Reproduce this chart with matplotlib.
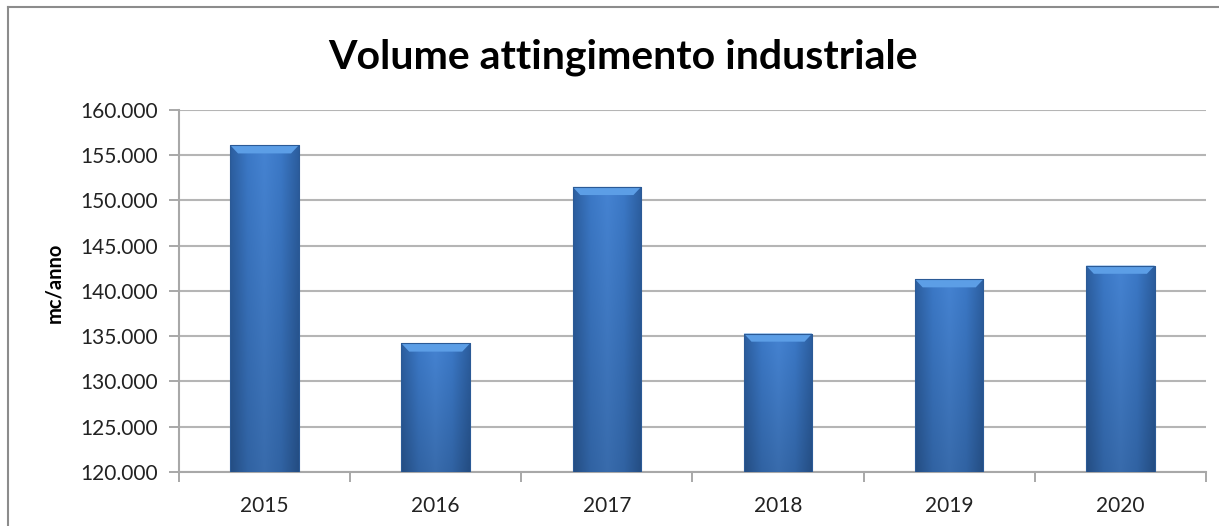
import numpy as np
import matplotlib
matplotlib.use("Agg")
import matplotlib.pyplot as plt
from matplotlib.patches import Polygon, Rectangle
from matplotlib.lines import Line2D
from matplotlib.colors import LinearSegmentedColormap
from matplotlib.ticker import FuncFormatter, MultipleLocator, FixedLocator

years = ["2015", "2016", "2017", "2018", "2019", "2020"]
volumes = [156100, 134200, 151500, 135300, 141300, 142800]

plt.rcParams['font.family'] = ['Lato', 'DejaVu Sans']

fig = plt.figure(figsize=(12.19, 5.26), dpi=100)
ax = fig.add_axes([0.1468, 0.1027, 0.8425, 0.6882])

x = np.arange(len(years))
width = 0.4
ymin = 120000
bars = ax.bar(x, np.array(volumes) - ymin, bottom=ymin, width=width,
              color="#3a74c0", edgecolor="#2b5a96", linewidth=0.6, zorder=3)

# shaded fill inside each bar
cmap = LinearSegmentedColormap.from_list("b", ["#2c5e9f", "#3b78c6", "#4583d2", "#3b78c6", "#2c5e9f"])
gx = np.linspace(0, 1, 64)
gy = np.linspace(0, 1, 64)
grad = cmap(np.tile(gx, (64, 1)))
shade = 0.82 + 0.18 * gy[:, None]
grad[..., :3] = grad[..., :3] * shade[..., None]
for b in bars:
    x0, y0 = b.get_x(), b.get_y()
    w, h = b.get_width(), b.get_height()
    im = ax.imshow(grad, extent=[x0, x0 + w, y0, y0 + h], origin="lower",
                   aspect="auto", zorder=3.5, interpolation="bicubic")
    im.set_clip_path(b)
    # top bevel
    bh = 900
    inset = 0.045
    top = y0 + h
    ax.add_patch(Polygon([[x0, top], [x0 + w, top], [x0 + w - inset, top - bh],
                          [x0 + inset, top - bh]], closed=True,
                         facecolor="#5c9ee6", edgecolor="none", zorder=4))
    ax.add_patch(Rectangle((x0, y0), w, h, fill=False, edgecolor="#2b5a96",
                           linewidth=0.8, zorder=4.5))

ax.set_xlim(-0.5, len(years) - 0.5)
ax.set_ylim(120000, 160000)
ax.yaxis.set_major_locator(MultipleLocator(5000))
ax.yaxis.set_major_formatter(FuncFormatter(lambda v, p: f"{v:,.0f}".replace(",", ".")))
ax.set_xticks(x)
ax.set_xticklabels(years)
ax.xaxis.set_minor_locator(FixedLocator(np.arange(-0.5, len(years), 1)))
ax.tick_params(axis="x", which="major", length=0, pad=17, labelsize=15, colors="#222222")
ax.tick_params(axis="x", which="minor", length=7, color="#999999", width=1.2)
ax.tick_params(axis="y", length=7, color="#999999", width=1.2, labelsize=15,
               colors="#222222", pad=8)

ax.grid(axis="y", color="#b5b5b5", linewidth=1.5, zorder=0)
ax.set_axisbelow(True)
for s in ["top", "right"]:
    ax.spines[s].set_visible(False)
for s in ["left", "bottom"]:
    ax.spines[s].set_color("#a8a8a8")
    ax.spines[s].set_linewidth(1.5)

ax.set_ylabel("mc/anno", fontsize=14.5, fontweight="bold")
ax.yaxis.set_label_coords(-0.112, 0.522)

fig.text(0.511, 0.891, "Volume attingimento industriale", ha="center", va="center",
         fontsize=29.5, fontweight="bold")

# outer frame (left and top edges visible)
fig.lines.append(Line2D([0.0068, 0.0068], [0.0, 0.9867], transform=fig.transFigure,
                        color="#8c8c8c", linewidth=1.5))
fig.lines.append(Line2D([0.0068, 1.0], [0.9867, 0.9867], transform=fig.transFigure,
                        color="#8c8c8c", linewidth=1.5))

fig.savefig("out.png", dpi=100)
